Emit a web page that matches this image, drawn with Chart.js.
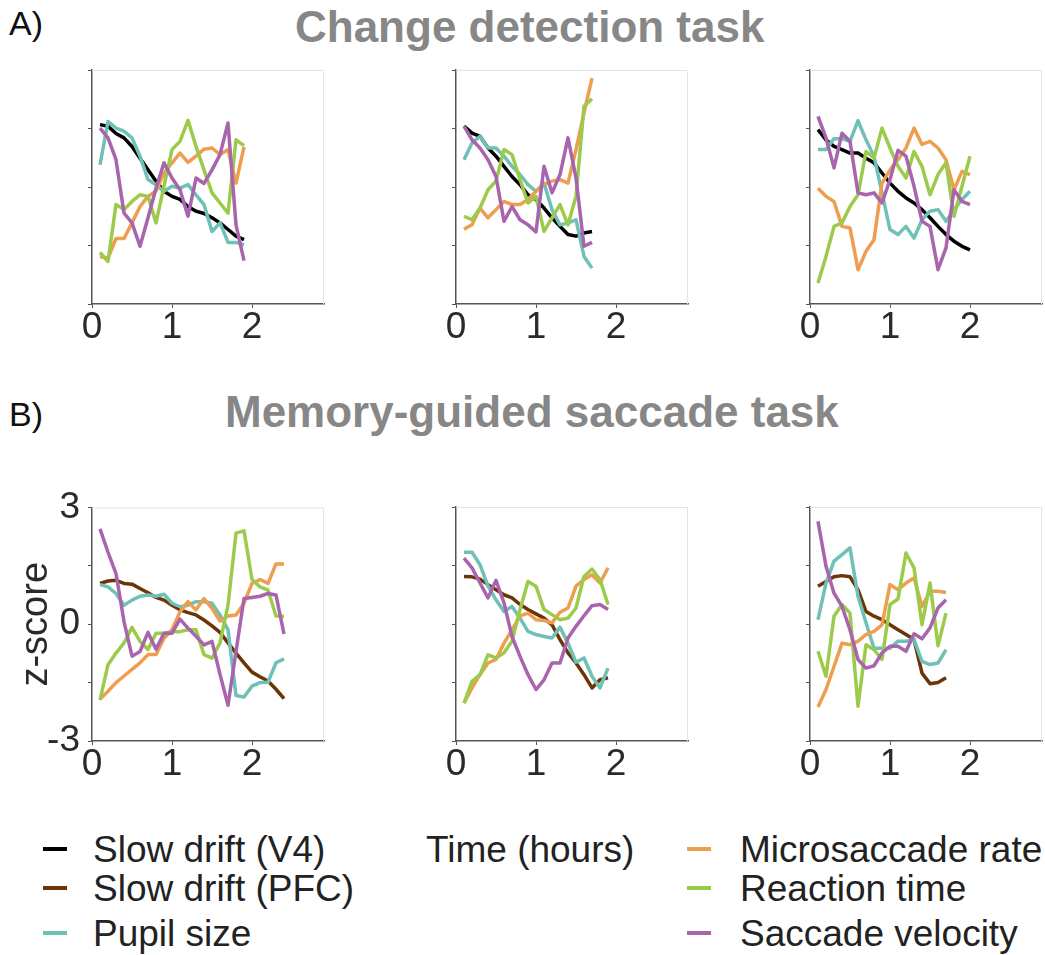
<!DOCTYPE html>
<html>
<head>
<meta charset="utf-8">
<title>Slow drift and behaviour</title>
<script src="https://cdn.jsdelivr.net/npm/chart.js@4.4.1/dist/chart.umd.min.js"></script>
<style>
  body { margin: 0; width: 1045px; height: 955px; position: relative; overflow: hidden; background: #fff;
         font-family: "Liberation Sans", Arial, Helvetica, sans-serif; }
  canvas { position: absolute; }
  .txt { position: absolute; white-space: nowrap; line-height: 1; }
  .head { font-size: 44px; font-weight: bold; color: #878787; }
  .tag { font-size: 34px; color: #111; }
  .leg { font-size: 37px; color: #222; }
  .dash { position: absolute; height: 4px; }
</style>
</head>
<body>

<div class="txt tag" style="left:9px; top:6px;">A)</div>
<div class="txt head" style="left:295px; top:5px;">Change detection task</div>
<div class="txt tag" style="left:9px; top:397px;">B)</div>
<div class="txt head" style="left:225px; top:390px;">Memory-guided saccade task</div>

<canvas id="cd1" width="325" height="310"></canvas>
<canvas id="cd2" width="325" height="310"></canvas>
<canvas id="cd3" width="325" height="310"></canvas>
<canvas id="mg1" width="325" height="310"></canvas>
<canvas id="mg2" width="325" height="310"></canvas>
<canvas id="mg3" width="325" height="310"></canvas>

<div id="legend"></div>

<script>
// time bins (hours), one value every 6 minutes
const timeBins = [0.1, 0.2, 0.3, 0.4, 0.5, 0.6, 0.7, 0.8, 0.9, 1.0, 1.1, 1.2,
                  1.3, 1.4, 1.5, 1.6, 1.7, 1.8, 1.9, 2.0, 2.1, 2.2, 2.3, 2.4];
const xTicks = [0, 1, 2];
const yTicks = [-3, -1.5, 0, 1.5, 3];

// Change detection task, session 1
const cd1Drift = [1.60, 1.56, 1.37, 1.26, 1.04, 0.74, 0.44, 0.15, -0.11, -0.24, -0.32, -0.50, -0.62, -0.68, -0.79, -0.92, -1.09, -1.26, -1.35];
const cd1Pupil = [0.57, 1.68, 1.51, 1.43, 1.26, 0.79, 0.19, 0.06, -0.11, 0.02, -0.03, 0.06, -0.20, -0.45, -1.14, -0.92, -1.42, -1.42, -1.48];
const cd1Micro = [-1.78, -1.82, -1.32, -1.32, -0.92, -0.50, -0.24, -0.11, 0.36, 0.62, 0.87, 0.63, 0.79, 0.97, 1.00, 0.83, 0.96, 0.10, 1.03];
const cd1RT    = [-1.68, -1.91, -0.45, -0.58, -0.37, -0.20, -0.24, -0.92, 0.02, 0.96, 1.17, 1.71, 1.04, 0.44, -0.15, -0.41, -0.67, 1.21, 1.06];
const cd1Vel   = [1.51, 1.26, 0.70, -0.67, -0.92, -1.52, -0.79, -0.03, 0.62, 0.23, -0.07, -0.75, 0.23, 0.09, 0.44, 0.83, 1.64, -0.97, -1.89];

// Change detection task, session 2
const cd2Drift = [1.56, 1.38, 1.30, 1.00, 0.79, 0.53, 0.27, 0.06, -0.20, -0.32, -0.54, -0.79, -1.01, -1.22, -1.26, -1.18, -1.14];
const cd2Pupil = [0.70, 1.13, 1.30, 1.00, 1.00, 0.79, 0.53, 0.32, 0.06, -0.11, 0.10, -0.58, -0.97, -0.92, -0.84, -1.78, -2.08];
const cd2Micro = [-1.08, -0.97, -0.54, -0.79, -0.58, -0.37, -0.45, -0.45, -0.32, -0.11, 0.06, 0.15, 0.19, 0.10, 0.96, 1.90, 2.79];
const cd2RT    = [-0.75, -0.84, -0.54, -0.07, 0.15, 0.96, 0.83, 0.19, -0.41, -0.24, -1.14, -0.79, -0.45, -0.97, -0.24, 2.07, 2.26];
const cd2Vel   = [1.56, 1.21, 1.00, 0.70, 0.27, -0.88, -0.50, -0.84, -0.97, -1.15, 0.53, -0.15, 0.32, 1.26, 0.23, -1.52, -1.42];

// Change detection task, session 3
const cd3Drift = [1.47, 1.21, 1.04, 0.96, 0.87, 0.87, 0.74, 0.62, 0.36, 0.10, -0.11, -0.28, -0.41, -0.58, -0.79, -1.01, -1.22, -1.39, -1.52, -1.61];
const cd3Pupil = [0.96, 0.96, 1.24, 1.24, 1.17, 1.70, 1.21, 0.79, -0.15, -1.09, -1.22, -1.01, -1.31, -0.84, -0.62, -0.58, -0.88, -0.58, -0.32, -0.11];
const cd3Micro = [-0.03, -0.24, -0.37, -1.01, -1.05, -2.12, -1.65, -1.35, 0.10, 0.44, 0.70, 1.00, 1.51, 1.09, 1.17, 1.00, 0.70, -0.07, 0.40, 0.32];
const cd3RT    = [-2.46, -1.78, -1.01, -0.92, -0.50, -0.20, 0.91, 0.74, 1.51, 1.00, 0.53, 0.23, 0.91, 0.53, -0.20, 0.32, 0.62, -0.75, 0.02, 0.79];
const cd3Vel   = [1.81, 1.26, 0.49, 1.38, 1.17, -0.15, -0.20, -0.15, -0.41, 0.19, 0.94, 0.79, 0.02, -0.88, -1.01, -2.12, -1.56, -0.07, -0.37, -0.45];

// Memory-guided saccade task, session 1
const mg1Drift = [1.05, 1.11, 1.13, 1.05, 1.03, 0.92, 0.81, 0.69, 0.62, 0.49, 0.37, 0.30, 0.24, 0.11, -0.04, -0.21, -0.48, -0.74, -0.99, -1.23, -1.35, -1.46, -1.67, -1.91];
const mg1Pupil = [1.02, 0.96, 0.79, 0.49, 0.62, 0.72, 0.75, 0.72, 0.77, 0.54, 0.45, 0.49, 0.58, 0.58, 0.54, 0.24, -0.14, -1.83, -1.87, -1.59, -1.50, -1.49, -0.99, -0.89];
const mg1Micro = [-1.93, -1.72, -1.50, -1.33, -1.16, -0.99, -0.78, -0.78, -0.36, -0.14, 0.32, 0.58, 0.37, 0.66, 0.41, 0.08, 0.21, 0.24, 0.54, 1.05, 1.15, 1.05, 1.55, 1.55];
const mg1RT    = [-1.95, -1.04, -0.74, -0.48, -0.08, -0.44, -0.65, -0.23, -0.23, -0.19, -0.19, -0.14, -0.14, -0.78, -0.87, -0.48, 0.49, 2.34, 2.40, 1.15, 0.96, 0.88, 0.21, 0.20];
const mg1Vel   = [2.45, 1.85, 1.30, 0.07, -0.82, -0.70, -0.21, -0.64, -0.23, -0.23, 0.13, -0.10, -0.31, -0.53, -0.44, -1.29, -2.08, -0.70, 0.66, 0.69, 0.72, 0.79, 0.75, -0.25];

// Memory-guided saccade task, session 2
const mg2Drift = [1.22, 1.21, 1.15, 1.01, 0.88, 0.75, 0.67, 0.50, 0.37, 0.26, 0.15, -0.02, -0.40, -0.74, -1.00, -1.30, -1.64, -1.43, -1.38];
const mg2Pupil = [1.84, 1.84, 1.52, 0.97, 0.62, 0.32, 0.45, 0.15, -0.19, -0.27, -0.32, -0.36, -0.08, -0.49, -0.98, -0.87, -1.34, -1.64, -1.13];
const mg2Micro = [-2.03, -1.64, -1.30, -1.00, -0.91, -0.49, -0.15, 0.21, 0.28, 0.11, 0.09, 0.03, 0.30, 0.41, 0.97, 1.14, 1.26, 1.05, 1.44];
const mg2RT    = [-2.03, -1.47, -1.30, -0.79, -0.87, -0.74, -0.44, 0.37, 1.09, 0.97, 0.37, 0.24, 0.11, 0.15, 0.41, 1.22, 1.41, 1.14, 0.50];
const mg2Vel   = [1.69, 1.44, 1.05, 0.67, 1.12, 0.54, -0.32, -0.83, -1.30, -1.68, -1.43, -1.00, -1.00, -0.36, -0.06, 0.21, 0.47, 0.50, 0.37];

// Memory-guided saccade task, session 3
const mg3Drift = [0.97, 1.09, 1.21, 1.24, 1.21, 0.88, 0.32, 0.20, 0.11, -0.02, -0.15, -0.27, -0.40, -1.26, -1.53, -1.50, -1.38];
const mg3Pupil = [0.11, 1.05, 1.61, 1.78, 1.95, 0.71, 0.03, -0.62, -0.62, -0.62, -0.44, -0.44, -0.40, -0.96, -1.04, -1.00, -0.66];
const mg3Micro = [-2.13, -1.68, -1.09, -0.49, -0.53, -0.44, -0.27, -0.19, -0.02, 1.01, 0.88, 1.05, 1.18, 0.45, 0.84, 0.84, 0.81];
const mg3RT    = [-0.70, -1.34, 0.20, 0.50, 0.28, -2.11, -0.53, -0.66, -0.91, 0.50, 0.64, 1.82, 1.44, -0.02, 1.05, -0.56, 0.28];
const mg3Vel   = [2.63, 1.48, 0.79, 0.45, -0.15, -0.91, -1.13, -1.07, -0.74, -0.57, -0.57, -0.70, -0.25, -0.38, -0.10, 0.41, 0.62];

// series names and colours
const names = {
  v4: "Slow drift (V4)", pfc: "Slow drift (PFC)", pupil: "Pupil size",
  micro: "Microsaccade rate", rt: "Reaction time", vel: "Saccade velocity"
};
const colors = {
  v4: "#000000", pfc: "#6b3508", pupil: "#6fc0b6",
  micro: "#ef9d4e", rt: "#9ccb4c", vel: "#a865ae"
};

const FONT = '"Liberation Sans", Arial, Helvetica, sans-serif';

// faint top/right box edges around each plot area
const boxEdges = {
  id: 'boxEdges',
  beforeDatasetsDraw(chart) {
    const { ctx, chartArea: a } = chart;
    ctx.save();
    ctx.strokeStyle = '#e4e4e4';
    ctx.lineWidth = 1;
    ctx.beginPath();
    ctx.moveTo(a.left, a.top + 0.5);
    ctx.lineTo(a.right - 0.5, a.top + 0.5);
    ctx.lineTo(a.right - 0.5, a.bottom);
    ctx.stroke();
    ctx.restore();
  }
};

function toPoints(values) {
  return values.map((v, i) => ({ x: timeBins[i], y: v }));
}

function buildPanel(id, left, top, drift, series, withYLabels) {
  const canvas = document.getElementById(id);
  canvas.style.left = (left - 90) + 'px';
  canvas.style.top = (top - 26) + 'px';

  // Chart.js paints dataset 0 last, so velocity ends up on top and drift underneath
  const order = ['vel', 'rt', 'micro', 'pupil', drift];
  const datasets = order.map(key => ({
    label: names[key],
    data: toPoints(series[key]),
    borderColor: colors[key],
    borderWidth: 3.5,
    borderJoinStyle: 'round',
    borderCapStyle: 'butt',
    pointRadius: 0,
    tension: 0,
    fill: false
  }));

  new Chart(canvas.getContext('2d'), {
    type: 'line',
    data: { datasets },
    options: {
      responsive: false,
      animation: false,
      events: [],
      layout: { padding: { top: 26, right: 3, left: 0, bottom: 0 } },
      plugins: { legend: { display: false }, tooltip: { enabled: false } },
      scales: {
        x: {
          type: 'linear', min: 0, max: 2.9,
          afterBuildTicks: s => { s.ticks = xTicks.map(v => ({ value: v })); },
          afterFit: s => { s.height = 50; },
          border: { color: '#555', width: 1.5 },
          grid: { drawOnChartArea: false, tickLength: 4, color: '#555', lineWidth: 1 },
          ticks: {
            autoSkip: false, maxRotation: 0, padding: 1, color: '#2a2a2a',
            font: { family: FONT, size: 37, lineHeight: 1 },
            callback: v => String(v)
          }
        },
        y: {
          min: -3, max: 3,
          afterBuildTicks: s => { s.ticks = yTicks.map(v => ({ value: v })); },
          afterFit: s => { s.width = 90; },
          border: { color: '#555', width: 1.5 },
          grid: { drawOnChartArea: false, tickLength: 4, color: '#555', lineWidth: 1 },
          ticks: {
            display: withYLabels, padding: 8, color: '#2a2a2a',
            font: { family: FONT, size: 37, lineHeight: 1 },
            callback: v => Number.isInteger(v) ? String(v) : ''
          },
          title: {
            display: withYLabels, text: 'z-score', color: '#2a2a2a',
            font: { family: FONT, size: 38, lineHeight: 1.2 },
            padding: { top: 12, bottom: 0 }
          }
        }
      }
    },
    plugins: [boxEdges]
  });
}

const colLeft = [92, 456, 810];
const rowTop = [70, 507];

buildPanel('cd1', colLeft[0], rowTop[0], 'v4', { v4: cd1Drift, pupil: cd1Pupil, micro: cd1Micro, rt: cd1RT, vel: cd1Vel }, false);
buildPanel('cd2', colLeft[1], rowTop[0], 'v4', { v4: cd2Drift, pupil: cd2Pupil, micro: cd2Micro, rt: cd2RT, vel: cd2Vel }, false);
buildPanel('cd3', colLeft[2], rowTop[0], 'v4', { v4: cd3Drift, pupil: cd3Pupil, micro: cd3Micro, rt: cd3RT, vel: cd3Vel }, false);
buildPanel('mg1', colLeft[0], rowTop[1], 'pfc', { pfc: mg1Drift, pupil: mg1Pupil, micro: mg1Micro, rt: mg1RT, vel: mg1Vel }, true);
buildPanel('mg2', colLeft[1], rowTop[1], 'pfc', { pfc: mg2Drift, pupil: mg2Pupil, micro: mg2Micro, rt: mg2RT, vel: mg2Vel }, false);
buildPanel('mg3', colLeft[2], rowTop[1], 'pfc', { pfc: mg3Drift, pupil: mg3Pupil, micro: mg3Micro, rt: mg3RT, vel: mg3Vel }, false);

// legend: two columns of swatches with the x-axis caption between them
const legendRows = [
  { key: 'v4', col: 0, row: 0 }, { key: 'pfc', col: 0, row: 1 }, { key: 'pupil', col: 0, row: 2 },
  { key: 'micro', col: 1, row: 0 }, { key: 'rt', col: 1, row: 1 }, { key: 'vel', col: 1, row: 2 }
];
const rowCenter = [849, 888, 933];
const dashLeft = [43, 687];
const textLeft = [93, 740];
const legend = document.getElementById('legend');
legendRows.forEach(r => {
  const dash = document.createElement('div');
  dash.className = 'dash';
  dash.style.left = dashLeft[r.col] + 'px';
  dash.style.width = '24px';
  dash.style.top = (rowCenter[r.row] - 2) + 'px';
  dash.style.background = colors[r.key];
  legend.appendChild(dash);

  const t = document.createElement('div');
  t.className = 'txt leg';
  t.style.left = textLeft[r.col] + 'px';
  t.style.top = Math.round(rowCenter[r.row] - 0.49 * 37) + 'px';
  t.textContent = names[r.key];
  legend.appendChild(t);
});
const caption = document.createElement('div');
caption.className = 'txt leg';
caption.style.left = '426px';
caption.style.top = Math.round(rowCenter[0] - 0.49 * 37) + 'px';
caption.textContent = 'Time (hours)';
legend.appendChild(caption);
</script>
</body>
</html>
